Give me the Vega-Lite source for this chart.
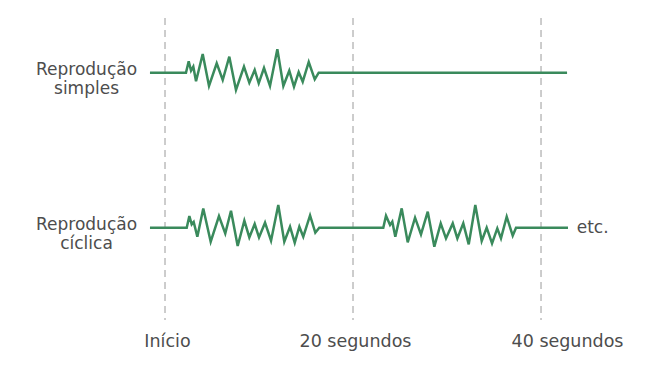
{
  "$schema": "https://vega.github.io/schema/vega-lite/v6.json",
  "width": 630,
  "height": 302,
  "autosize": {"type": "none"},
  "padding": {"left": 10, "top": 18, "right": 5, "bottom": 52},
  "background": "white",
  "config": {"view": {"stroke": null}, "font": "DejaVu Sans"},
  "datasets": {
    "waves": [
      {"series": "simples", "t": -1.6, "a": 0},
      {"series": "simples", "t": 2.23, "a": 0},
      {"series": "simples", "t": 2.52, "a": 11.4},
      {"series": "simples", "t": 2.77, "a": 2},
      {"series": "simples", "t": 3.01, "a": 6},
      {"series": "simples", "t": 3.3, "a": -8.6},
      {"series": "simples", "t": 4.01, "a": 18.7},
      {"series": "simples", "t": 4.68, "a": -13.3},
      {"series": "simples", "t": 5.5, "a": 9.4},
      {"series": "simples", "t": 6.14, "a": -7.3},
      {"series": "simples", "t": 6.84, "a": 16},
      {"series": "simples", "t": 7.55, "a": -17.3},
      {"series": "simples", "t": 8.4, "a": 6},
      {"series": "simples", "t": 8.97, "a": -10},
      {"series": "simples", "t": 9.54, "a": 2.7},
      {"series": "simples", "t": 9.97, "a": -10.6},
      {"series": "simples", "t": 10.53, "a": 4.7},
      {"series": "simples", "t": 11.17, "a": -13.3},
      {"series": "simples", "t": 11.95, "a": 23.4},
      {"series": "simples", "t": 12.59, "a": -13.3},
      {"series": "simples", "t": 13.22, "a": 2},
      {"series": "simples", "t": 13.72, "a": -14},
      {"series": "simples", "t": 14.22, "a": 0.7},
      {"series": "simples", "t": 14.65, "a": -9},
      {"series": "simples", "t": 15.29, "a": 10.7},
      {"series": "simples", "t": 15.93, "a": -6.6},
      {"series": "simples", "t": 16.35, "a": 0},
      {"series": "simples", "t": 42.77, "a": 0},
      {"series": "cíclica", "t": -1.6, "a": 0},
      {"series": "cíclica", "t": 2.31, "a": 0},
      {"series": "cíclica", "t": 2.59, "a": 11.7},
      {"series": "cíclica", "t": 2.84, "a": 3.3},
      {"series": "cíclica", "t": 3.05, "a": 5.7},
      {"series": "cíclica", "t": 3.44, "a": -9},
      {"series": "cíclica", "t": 4.07, "a": 19.3},
      {"series": "cíclica", "t": 4.86, "a": -14},
      {"series": "cíclica", "t": 5.74, "a": 11.7},
      {"series": "cíclica", "t": 6.41, "a": -5.7},
      {"series": "cíclica", "t": 7.02, "a": 17},
      {"series": "cíclica", "t": 7.73, "a": -18.3},
      {"series": "cíclica", "t": 8.44, "a": 7},
      {"series": "cíclica", "t": 8.97, "a": -9.7},
      {"series": "cíclica", "t": 9.54, "a": 3.7},
      {"series": "cíclica", "t": 10.0, "a": -9.7},
      {"series": "cíclica", "t": 10.64, "a": 5},
      {"series": "cíclica", "t": 11.28, "a": -13},
      {"series": "cíclica", "t": 12.05, "a": 22.7},
      {"series": "cíclica", "t": 12.69, "a": -14},
      {"series": "cíclica", "t": 13.3, "a": 1},
      {"series": "cíclica", "t": 13.8, "a": -15},
      {"series": "cíclica", "t": 14.29, "a": 1},
      {"series": "cíclica", "t": 14.71, "a": -9},
      {"series": "cíclica", "t": 15.43, "a": 12.3},
      {"series": "cíclica", "t": 15.99, "a": -5},
      {"series": "cíclica", "t": 16.41, "a": 0},
      {"series": "cíclica", "t": 23.22, "a": 0},
      {"series": "cíclica", "t": 23.51, "a": 12},
      {"series": "cíclica", "t": 23.94, "a": 2.7},
      {"series": "cíclica", "t": 24.18, "a": 6},
      {"series": "cíclica", "t": 24.5, "a": -9},
      {"series": "cíclica", "t": 25.18, "a": 19.3},
      {"series": "cíclica", "t": 25.82, "a": -14.7},
      {"series": "cíclica", "t": 26.6, "a": 10},
      {"series": "cíclica", "t": 27.23, "a": -6.7},
      {"series": "cíclica", "t": 27.95, "a": 16},
      {"series": "cíclica", "t": 28.65, "a": -19},
      {"series": "cíclica", "t": 29.33, "a": 4.3},
      {"series": "cíclica", "t": 29.89, "a": -10.7},
      {"series": "cíclica", "t": 30.61, "a": 4.3},
      {"series": "cíclica", "t": 31.1, "a": -10.7},
      {"series": "cíclica", "t": 31.73, "a": 4.3},
      {"series": "cíclica", "t": 32.31, "a": -16.7},
      {"series": "cíclica", "t": 33.01, "a": 22.7},
      {"series": "cíclica", "t": 33.69, "a": -13.3},
      {"series": "cíclica", "t": 34.22, "a": 0},
      {"series": "cíclica", "t": 34.79, "a": -15.7},
      {"series": "cíclica", "t": 35.35, "a": -0.7},
      {"series": "cíclica", "t": 35.74, "a": -10.7},
      {"series": "cíclica", "t": 36.35, "a": 11},
      {"series": "cíclica", "t": 36.99, "a": -8},
      {"series": "cíclica", "t": 37.34, "a": 0},
      {"series": "cíclica", "t": 42.87, "a": 0}
    ],
    "marks": [
      {"t": 0},
      {"t": 20},
      {"t": 40}
    ],
    "labels": [
      {"series": "simples", "t": -8.35, "label": ["Reprodução", "simples"]},
      {"series": "cíclica", "t": -8.35, "label": ["Reprodução", "cíclica"]}
    ],
    "etc": [
      {"series": "cíclica", "t": 43.8, "label": "etc."}
    ]
  },
  "layer": [
    {
      "data": {"name": "marks"},
      "mark": {"type": "rule", "color": "#9a9a9a", "strokeWidth": 1, "strokeDash": [7, 5]},
      "encoding": {
        "x": {
          "field": "t",
          "type": "quantitative",
          "scale": {"domain": [-16.49, 50.53], "nice": false, "zero": false},
          "axis": {
            "values": [0, 20, 40],
            "labelExpr": "datum.value == 0 ? 'Início' : datum.value + ' segundos'",
            "domain": false,
            "ticks": false,
            "tickSize": 0,
            "grid": false,
            "title": null,
            "labelFont": "DejaVu Sans",
            "labelFontSize": 17.5,
            "labelColor": "#4d4d4d",
            "labelPadding": 12,
            "labelOffset": {"condition": {"test": "datum.value == 40", "value": 26}, "value": 2}
          }
        }
      }
    },
    {
      "data": {"name": "waves"},
      "mark": {"type": "line", "color": "#3a8a5c", "strokeWidth": 2.5, "strokeJoin": "miter", "orient": "vertical"},
      "encoding": {
        "x": {"field": "t", "type": "quantitative"},
        "y": {
          "field": "series",
          "type": "nominal",
          "scale": {"type": "point", "domain": ["simples", "cíclica"], "range": [54.7, 209.7], "padding": 0},
          "axis": null
        },
        "yOffset": {
          "field": "a",
          "type": "quantitative",
          "scale": {"domain": [-20, 20], "range": [20, -20]}
        },
        "detail": {"field": "series"},
        "order": {"field": "t", "type": "quantitative"}
      }
    },
    {
      "data": {"name": "labels"},
      "mark": {"type": "text", "font": "DejaVu Sans", "fontSize": 17, "lineHeight": 19, "color": "#4d4d4d", "align": "center", "baseline": "middle", "dy": -3},
      "encoding": {
        "x": {"field": "t", "type": "quantitative"},
        "y": {"field": "series", "type": "nominal"},
        "text": {"field": "label"}
      }
    },
    {
      "data": {"name": "etc"},
      "mark": {"type": "text", "font": "DejaVu Sans", "fontSize": 17, "color": "#4d4d4d", "align": "left", "baseline": "middle", "dy": 0},
      "encoding": {
        "x": {"field": "t", "type": "quantitative"},
        "y": {"field": "series", "type": "nominal"},
        "text": {"field": "label"}
      }
    }
  ]
}
